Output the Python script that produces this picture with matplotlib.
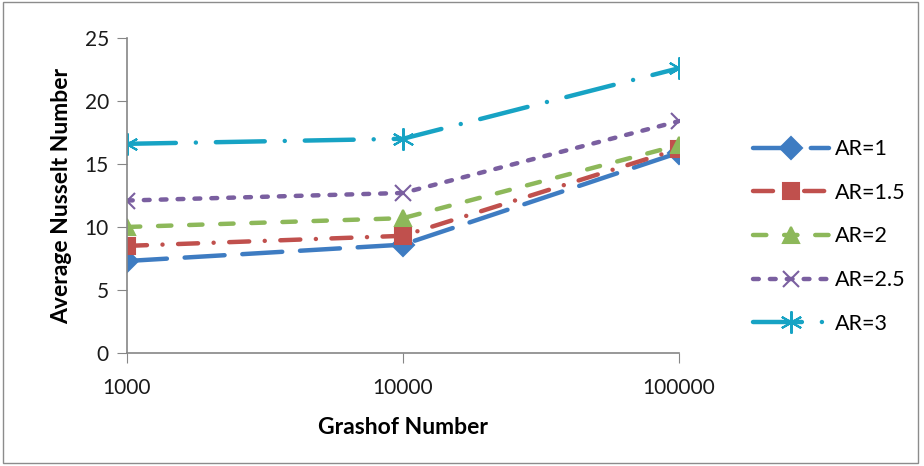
import matplotlib
matplotlib.use("Agg")
import matplotlib.pyplot as plt
from matplotlib.patches import Rectangle

# Data
grashof = [1000, 10000, 100000]
ar_1 = [7.3, 8.6, 15.9]
ar_1_5 = [8.5, 9.3, 16.2]
ar_2 = [10.0, 10.7, 16.5]
ar_2_5 = [12.1, 12.7, 18.4]
ar_3 = [16.6, 17.0, 22.6]
labels = ["AR=1", "AR=1.5", "AR=2", "AR=2.5", "AR=3"]

plt.rcParams['font.family'] = ['Lato', 'DejaVu Sans']

fig = plt.figure(figsize=(9.24, 4.66), dpi=100)
ax = fig.add_axes([0.1374, 0.2425, 0.5974, 0.676])

# border round the whole chart
fig.patches.append(Rectangle((0.003, 0.006), 0.99, 0.99, transform=fig.transFigure,
                             fill=False, edgecolor='#8c8c8c', linewidth=1))

series = [
    (ar_1, '#3E7CC2', 'D', (0, (9, 4)), 11),
    (ar_1_5, '#C0504D', 's', (0, (4.5, 3.5, 0.01, 3.5)), 12),
    (ar_2, '#8DB85A', '^', (0, (3, 4)), 12),
    (ar_2_5, '#7A5FA0', 'x', (0, (1.3, 2.5)), 12),
    (ar_3, '#17A3C4', (6, 2, 0), (0, (11, 4.5, 0.01, 4.5)), 16),
]

for (vals, col, mk, ls, ms), lab in zip(series, labels):
    ax.plot(grashof, vals, color=col, linestyle=ls, linewidth=3.2,
            marker=mk, markersize=ms, markeredgewidth=1.5,
            markerfacecolor=col, markeredgecolor=col, label=lab,
            dash_capstyle='round', solid_capstyle='round')

ax.set_xscale('log')
ax.set_xlim(1000, 100000)
ax.set_ylim(0, 25)
ax.set_xticks(grashof)
ax.set_xticklabels(['1000', '10000', '100000'])
ax.minorticks_off()
ax.set_yticks([0, 5, 10, 15, 20, 25])

for s in ['top', 'right']:
    ax.spines[s].set_visible(False)
for s in ['left', 'bottom']:
    ax.spines[s].set_color('#868686')
    ax.spines[s].set_linewidth(1.2)
ax.tick_params(axis='both', direction='out', color='#868686', length=7,
               labelsize=15, labelcolor='#1a1a1a')
ax.tick_params(axis='x', pad=11)
ax.tick_params(axis='y', pad=6)

ax.set_xlabel('Grashof Number', fontsize=16.5, fontweight='bold', labelpad=14)
ax.set_ylabel('Average Nusselt Number', fontsize=16.5, fontweight='bold', labelpad=9)

leg = ax.legend(loc='center left', bbox_to_anchor=(1.135, 0.37), frameon=False,
                borderaxespad=0, borderpad=0,
                fontsize=15.5, handlelength=3.5, labelspacing=1.1, handletextpad=0.3)

fig.savefig('out.png', dpi=100)
